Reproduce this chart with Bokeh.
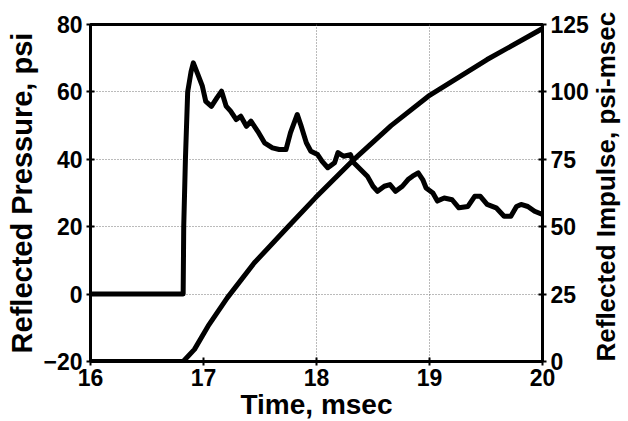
import math
from bokeh.plotting import figure
from bokeh.models import Range1d, LinearAxis, FixedTicker
from bokeh.embed import file_html
from bokeh.resources import INLINE

# Reflected pressure (psi) vs time (msec)
p_time = [16.0, 16.82, 16.825, 16.84, 16.86, 16.89, 16.91, 16.95, 16.99, 17.02,
          17.07, 17.12, 17.16, 17.20, 17.24, 17.29, 17.33, 17.38, 17.42, 17.48,
          17.54, 17.61, 17.67, 17.73, 17.77, 17.83, 17.86, 17.91, 17.95, 18.01,
          18.05, 18.10, 18.16, 18.19, 18.24, 18.30, 18.33, 18.39, 18.45, 18.50,
          18.54, 18.60, 18.65, 18.70, 18.76, 18.81, 18.85, 18.90, 18.94, 18.97,
          19.03, 19.07, 19.13, 19.20, 19.26, 19.34, 19.40, 19.45, 19.51, 19.59,
          19.66, 19.72, 19.77, 19.81, 19.87, 19.93, 20.0]
pressure = [0, 0, 20, 40, 60, 66, 68.6, 65.2, 61.7, 57.2,
            55.7, 58.3, 60.2, 55.8, 54.3, 51.8, 52.8, 49.8, 51.3, 48.3,
            44.9, 43.4, 42.9, 42.9, 47.9, 53.3, 50.3, 44.9, 42.4, 41.4,
            39.4, 37.5, 39.0, 42.0, 40.9, 41.4, 39.0, 37.0, 35.0, 32.0,
            30.5, 32.0, 32.5, 30.5, 32.0, 34.0, 35.0, 36.0, 34.0, 31.5,
            30.0, 27.6, 28.5, 28.0, 25.6, 26.0, 29.0, 29.0, 26.6, 25.6,
            23.1, 23.1, 26.0, 26.6, 26.0, 24.6, 23.6]

# Reflected impulse (psi-msec) vs time (msec)
i_time = [16.0, 16.82, 16.92, 17.04, 17.21, 17.45, 17.74, 17.99, 18.33, 18.66, 18.99, 19.51, 20.0]
impulse = [0, 0, 4.5, 13.1, 23.6, 36.6, 49.6, 60.7, 74.9, 87.5, 98.4, 112, 123.5]

x_ticks = [16, 17, 18, 19, 20]
p_ticks = [-20, 0, 20, 40, 60, 80]
i_ticks = [0, 25, 50, 75, 100, 125]

x_title = "Time, msec"
p_title = "Reflected Pressure, psi"
i_title = "Reflected Impulse, psi-msec"

FONT = "Liberation Sans"
TICK_SIZE = "23px"
LABEL_SIZE = "28px"

p = figure(frame_width=452, frame_height=337,
           x_range=Range1d(16, 20), y_range=Range1d(-20, 80),
           output_backend="svg", toolbar_location=None,
           min_border_left=90, min_border_top=24, min_border_right=10, min_border_bottom=10)
p.extra_y_ranges = {"imp": Range1d(0, 125)}

p.background_fill_color = "white"
p.border_fill_color = "white"
p.outline_line_color = "black"
p.outline_line_width = 3

p.xaxis.ticker = FixedTicker(ticks=x_ticks)
p.yaxis.ticker = FixedTicker(ticks=p_ticks)
p.xaxis.axis_label = x_title
p.yaxis.axis_label = p_title

right = LinearAxis(y_range_name="imp", ticker=FixedTicker(ticks=i_ticks),
                   axis_label=i_title)
p.add_layout(right, "right")

for ax in [p.xaxis[0], p.yaxis[0], right]:
    ax.axis_line_width = 3
    ax.axis_line_color = "black"
    ax.major_tick_line_width = 2
    ax.major_tick_in = 4
    ax.major_tick_out = 4
    ax.minor_tick_line_color = None
    ax.major_label_text_font = FONT
    ax.major_label_text_font_style = "bold"
    ax.major_label_text_font_size = TICK_SIZE
    ax.major_label_text_color = "black"
    ax.axis_label_text_font = FONT
    ax.axis_label_text_font_style = "bold"
    ax.axis_label_text_font_size = LABEL_SIZE
    ax.axis_label_text_color = "black"
    ax.major_label_standoff = 4
    ax.axis_label_standoff = 2

p.yaxis[0].axis_label_text_font_size = "29px"
p.xaxis[0].major_label_standoff = 3
p.xaxis[0].axis_label_standoff = 0
# right-hand title reads bottom-to-top, like the left one; starts at the bottom of the axis
right.axis_label_orientation = math.pi / 2
right.axis_label_align = "start"
right.axis_label_text_font_size = "26px"
right.axis_label_standoff = 14

p.xgrid.ticker = FixedTicker(ticks=[18, 19])
p.ygrid.ticker = FixedTicker(ticks=[0, 20, 40, 60])
p.grid.grid_line_color = "#777777"
p.grid.grid_line_width = 1
p.grid.grid_line_dash = "1 2"

p.line(p_time, pressure, line_color="black", line_width=5, line_join="round")
p.line(i_time, impulse, line_color="black", line_width=5, line_join="round", y_range_name="imp")

open("out.html", "w").write(file_html(p, INLINE))
